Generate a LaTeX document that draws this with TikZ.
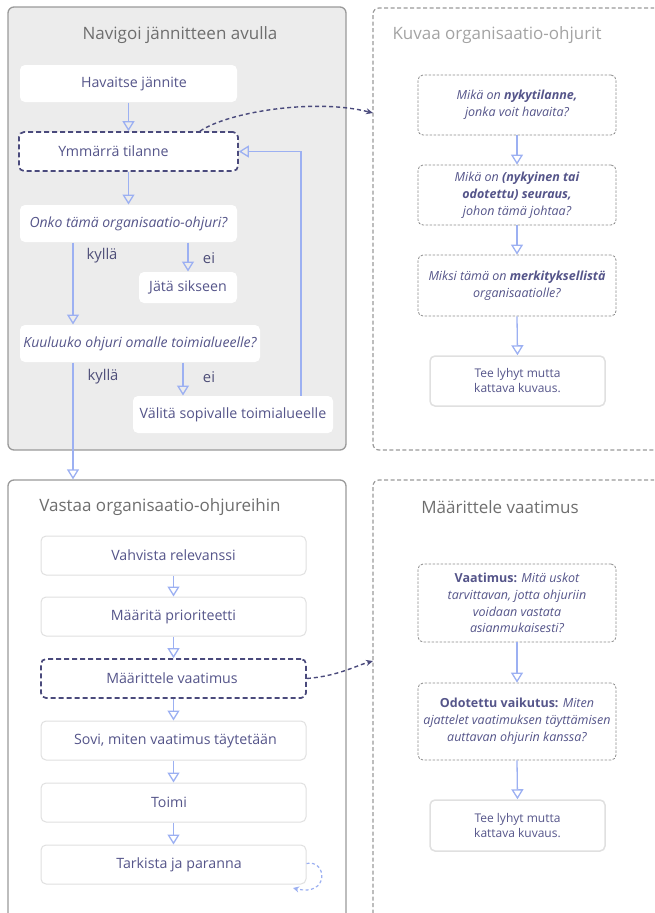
\documentclass[tikz,border=0pt]{standalone}
\usepackage{fontspec}
\setmainfont{Open Sans}
\usetikzlibrary{arrows.meta}

\definecolor{ink}{HTML}{55558A}
\definecolor{labelink}{HTML}{4E4E78}
\definecolor{flow}{HTML}{9CB0F2}
\definecolor{frame}{HTML}{4A4A7C}
\definecolor{panelfill}{HTML}{ECECEC}
\definecolor{panelline}{HTML}{9A9A9A}
\definecolor{titlegray}{HTML}{6E6E6E}
\definecolor{titlelight}{HTML}{A3A3A3}
\definecolor{boxline}{HTML}{E0E0E0}
\definecolor{noteline}{HTML}{8C8C8C}

\tikzset{
  x=1pt, y=-1pt,
  panel/.style={draw=panelline, line width=1.3pt, rounded corners=6pt, inner sep=0pt},
  notepanel/.style={draw=panelline, line width=1.2pt, dash pattern=on 4pt off 2.5pt, rounded corners=6pt, inner sep=0pt},
  paneltitle/.style={font=\fontsize{17}{20}\selectfont, inner sep=0pt},
  flowbox/.style={draw=boxline, line width=1pt, fill=white, rounded corners=5pt, text=ink,
    font=\fontsize{14.2}{17}\selectfont, inner sep=0pt, align=center},
  openbox/.style={flowbox, draw=none},
  keybox/.style={flowbox, draw=frame, line width=1.7pt, dash pattern=on 5pt off 3pt},
  question/.style={flowbox, font=\fontsize{14}{17}\itshape\selectfont},
  notebox/.style={draw=noteline, line width=0.8pt, dash pattern=on 2.5pt off 1.5pt, fill=white,
    rounded corners=5pt, text=ink, inner sep=0pt, align=center,
    font=\fontsize{12.5}{16.8}\itshape\selectfont},
  summary/.style={flowbox, draw=boxline, line width=1.5pt, font=\fontsize{12}{15}\selectfont},
  flowarrow/.style={draw=flow, line width=1.3pt, -{Triangle[open, width=12pt, length=10pt]}},
  choice/.style={text=labelink, font=\fontsize{14.8}{17}\selectfont, inner sep=0pt},
  linkarrow/.style={draw=frame, line width=1.4pt, dash pattern=on 4pt off 3pt,
    -{Stealth[length=7pt, width=6pt]}},
}

\begin{document}
\begin{tikzpicture}
\clip (0,0) rectangle (654,913);

% ---- panels ----
\node[panel, fill=panelfill, minimum width=338pt, minimum height=443pt] (nav) at (177,228.5) {};
\node[notepanel, minimum width=307pt, minimum height=442pt] (kuv) at (526.5,229) {};
\node[panel, fill=white, minimum width=338pt, minimum height=460pt] (vas) at (177,710) {};
\node[notepanel, minimum width=307pt, minimum height=460pt] (mvp) at (526.5,710) {};

\node[paneltitle, text=titlegray] (navt) at (180,35) {Navigoi jännitteen avulla};
\node[paneltitle, text=titlelight] (kuvt) at (497,35) {Kuvaa organisaatio-ohjurit};
\node[paneltitle, text=titlegray] (vast) at (160,507) {Vastaa organisaatio-ohjureihin};
\node[paneltitle, text=titlegray] (mvpt) at (500,507) {Määrittele vaatimus};

% ---- navigation flow ----
\node[openbox, minimum width=217pt, minimum height=37pt] (hav) at (128.5,83.5) {\hspace*{11pt}Havaitse jännite};
\node[keybox, minimum width=219pt, minimum height=39pt] (ymm) at (128.5,151.5) {Ymmärrä tilanne\hspace*{30pt}};
\node[question, draw=none, minimum width=217pt, minimum height=37pt] (onko) at (128.5,223.5) {Onko tämä organisaatio-ohjuri?};
\node[openbox, minimum width=98pt, minimum height=31pt] (jata) at (188,287.5) {Jätä sikseen};
\node[question, draw=none, minimum width=240pt, minimum height=37pt] (kuu) at (140,343.5) {Kuuluuko ohjuri omalle toimialueelle?};
\node[openbox, minimum width=200pt, minimum height=37pt] (val) at (233,414.5) {Välitä sopivalle toimialueelle};

\coordinate (kx) at (73,0);
\coordinate (eix) at (183,0);
\coordinate (backx) at (301,0);

\draw[flowarrow] (hav.south) -- (ymm.north);
\draw[flowarrow] (ymm.south) -- (onko.south |- onko.north);
\draw[flowarrow] (onko.south -| kx) -- (kuu.north -| kx);
\draw[flowarrow] (onko.south -| jata.north) -- (jata.north);
\draw[flowarrow] (kuu.south -| eix) -- (val.north -| eix);
\draw[flowarrow] (kuu.south -| kx) -- (vas.north -| kx);
\draw[flowarrow] (val.north -| backx) -- (backx |- ymm.east) -- (ymm.east);

\node[choice] (yes1) at (102,256) {kyllä};
\node[choice] (no1) at (209,258) {ei};
\node[choice] (yes2) at (103,377) {kyllä};
\node[choice] (no2) at (209,377) {ei};

% ---- description questions ----
\node[notebox, minimum width=198pt, minimum height=60pt] (q1) at (517,105)
  {Mikä on \textbf{nykytilanne,}\\jonka voit havaita?};
\node[notebox, minimum width=198pt, minimum height=60pt] (q2) at (517,195)
  {Mikä on \textbf{(nykyinen tai}\\\textbf{odotettu) seuraus,}\\johon tämä johtaa?};
\node[notebox, minimum width=198pt, minimum height=61pt] (q3) at (517,285.5)
  {Miksi tämä on \textbf{merkityksellistä}\\organisaatiolle?};
\node[summary, minimum width=175pt, minimum height=50pt] (d1) at (517.5,381)
  {Tee lyhyt mutta\\kattava kuvaus.};

\draw[flowarrow] (q1.south) -- (q2.north);
\draw[flowarrow] (q2.south) -- (q3.north);
\draw[flowarrow] (q3.south) -- (d1.north);

% ---- response steps ----
\node[flowbox, minimum width=265pt, minimum height=39pt] (vah) at (173.5,555.5) {Vahvista relevanssi};
\node[flowbox, minimum width=265pt, minimum height=39pt] (maa) at (173.5,616.5) {Määritä prioriteetti};
\node[keybox, minimum width=265pt, minimum height=39pt] (mv) at (173.5,678.5) {Määrittele vaatimus\hspace*{3pt}};
\node[flowbox, minimum width=265pt, minimum height=39pt] (sov) at (173.5,740.5) {\hspace*{4pt}Sovi, miten vaatimus täytetään};
\node[flowbox, minimum width=265pt, minimum height=39pt] (toi) at (173.5,802.5) {Toimi\hspace*{9pt}};
\node[flowbox, minimum width=265pt, minimum height=39pt] (tar) at (173.5,864.5) {\hspace*{11pt}Tarkista ja paranna};

\draw[flowarrow] (vah.south) -- (maa.north);
\draw[flowarrow] (maa.south) -- (mv.north);
\draw[flowarrow] (mv.south) -- (sov.north);
\draw[flowarrow] (sov.south) -- (toi.north);
\draw[flowarrow] (toi.south) -- (tar.north);

\coordinate (loopend) at (293,888);
\draw[draw=flow, line width=1.2pt, dash pattern=on 3pt off 2.5pt, -{Stealth[length=6pt, width=6pt]}]
  ([yshift=1pt]tar.east) .. controls (327,859) and (330,897) .. (loopend);

% ---- requirement questions ----
\node[notebox, minimum width=198pt, minimum height=78pt] (qv) at (517,603)
  {\textbf{\upshape Vaatimus:} Mitä uskot\\tarvittavan, jotta ohjuriin\\voidaan vastata\\asianmukaisesti?};
\node[notebox, minimum width=198pt, minimum height=77pt] (qo) at (517,721.5)
  {\textbf{\upshape Odotettu vaikutus:} Miten\\ajattelet vaatimuksen täyttämisen\\auttavan ohjurin kanssa?};
\node[summary, minimum width=175pt, minimum height=51pt] (d2) at (517.5,825.5)
  {Tee lyhyt mutta\\kattava kuvaus.};

\draw[flowarrow] (qv.south) -- (qo.north);
\draw[flowarrow] (qo.south) -- (d2.north);

% ---- links into the detail panels ----
\coordinate (kuvin) at (373,113);
\coordinate (mvpin) at (373,661);
\draw[linkarrow] (ymm.north -| 200,0) .. controls (228,112) and (315,98) .. (kuvin);
\draw[linkarrow] (mv.east) .. controls (338,676) and (355,666) .. (mvpin);
\end{tikzpicture}
\end{document}
